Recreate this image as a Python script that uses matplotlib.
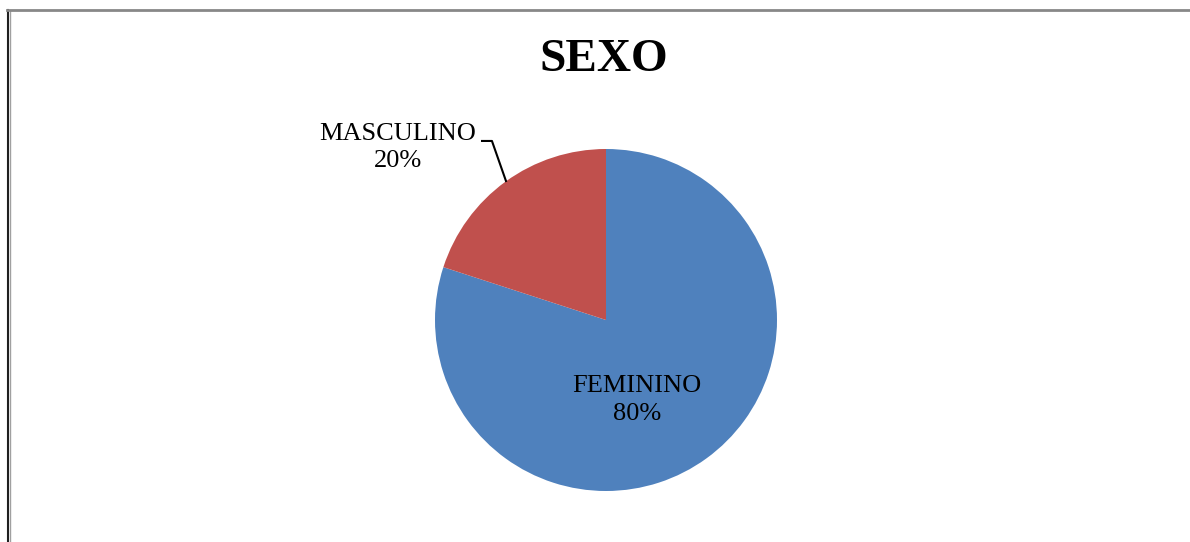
import matplotlib
matplotlib.use("Agg")
import matplotlib.pyplot as plt
from matplotlib.lines import Line2D

labels = ["FEMININO", "MASCULINO"]
values = [80, 20]
colors = ["#4F81BD", "#C0504D"]
title = "SEXO"

W, H = 1190, 542
fig = plt.figure(figsize=(W/100, H/100), dpi=100)
fig.patch.set_facecolor("white")

cx, cy, r = 606, 320, 171
ax = fig.add_axes([(cx - r)/W, (H - cy - r)/H, 2*r/W, 2*r/H])
ax.pie(values, colors=colors, startangle=90, counterclock=False, radius=1,
       wedgeprops=dict(linewidth=0))
ax.set_xlim(-1, 1)
ax.set_ylim(-1, 1)
ax.set_aspect("auto")
ax.axis("off")

font = "Liberation Serif"
fs = 19
pct = [f"{v}%" for v in values]
# FEMININO label inside
ax.text(0.181, -0.385, labels[0], ha="center", va="center", fontsize=fs, family=font, color="black")
ax.text(0.181, -0.55, pct[0], ha="center", va="center", fontsize=fs, family=font, color="black")
# MASCULINO label outside
ax.text(-1.216, 1.09, labels[1], ha="center", va="center", fontsize=fs, family=font, color="black", clip_on=False)
ax.text(-1.216, 0.93, pct[1], ha="center", va="center", fontsize=fs, family=font, color="black", clip_on=False)
ax.plot([-0.725, -0.667, -0.585], [1.047, 1.047, 0.813], color="black", lw=1.5, clip_on=False)

fig.text(604/W, 1 - 60/H, title, ha="center", va="center", fontsize=34, fontweight="bold", family=font)

# frame lines
fig.add_artist(Line2D([8/W, 8/W], [0, 1 - 10/H], color="#202020", lw=1.5, transform=fig.transFigure))
fig.add_artist(Line2D([9.5/W, 9.5/W], [0, 1 - 11/H], color="#a0a0a0", lw=1.0, transform=fig.transFigure))
fig.add_artist(Line2D([7/W, 1], [1 - 10/H, 1 - 10/H], color="#888888", lw=2.0, transform=fig.transFigure))

fig.savefig("out.png", dpi=100, facecolor="white")
